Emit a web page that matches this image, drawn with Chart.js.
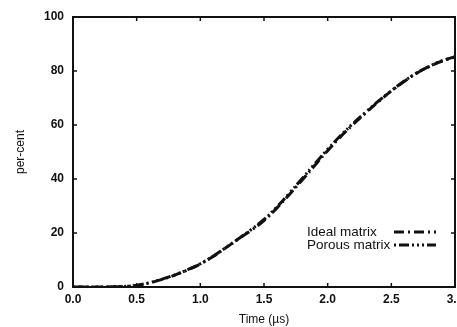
<!DOCTYPE html>
<html>
<head>
<script src="https://cdn.jsdelivr.net/npm/chart.js"></script>
<style>
  body { margin: 0; padding: 0; background: white; }
  #wrap { width: 457px; height: 327px; }
</style>
</head>
<body>
<div id="wrap"><canvas id="myChart" width="457" height="327"></canvas></div>
<script>
// time in microseconds
const times = [0.0, 0.1, 0.2, 0.3, 0.4, 0.5, 0.6, 0.7, 0.8, 0.9, 1.0, 1.1, 1.2, 1.3, 1.4, 1.5,
  1.6, 1.7, 1.8, 1.9, 2.0, 2.1, 2.2, 2.3, 2.4, 2.5, 2.6, 2.7, 2.8, 2.9, 3.0];
const idealMatrix = [0, 0, 0, 0.05, 0.2, 0.6, 1.5, 2.8, 4.4, 6.3, 8.5, 11.3, 14.5, 17.8, 21.0, 24.6,
  29.2, 34.3, 39.6, 45.1, 50.5, 55.6, 60.2, 64.5, 68.7, 72.6, 76.1, 79.2, 81.7, 83.7, 85.2];
const porousMatrix = [0, 0, 0, 0.05, 0.2, 0.6, 1.6, 2.9, 4.5, 6.4, 8.6, 11.4, 14.6, 17.9, 21.3, 25.0,
  29.6, 34.8, 40.2, 45.7, 51.0, 56.0, 60.6, 64.8, 68.9, 72.7, 76.2, 79.3, 81.8, 83.8, 85.3];
const xTicks = [0, 0.5, 1.0, 1.5, 2.0, 2.5, 3.0];
const yTicks = [0, 20, 40, 60, 80, 100];

const legendItems = [
  { label: "Ideal matrix", dash: [10, 4, 2, 4] },
  { label: "Porous matrix", dash: [2, 3, 10, 3, 2, 3, 2, 3] }
];

const toPoints = (ys) => times.map((t, i) => ({ x: t, y: ys[i] }));

// gnuplot-style frame, inward ticks and legend
const framePlugin = {
  id: "frame",
  afterDraw(chart) {
    const { ctx, chartArea: a, scales } = chart;
    ctx.save();
    ctx.strokeStyle = "#111";
    ctx.lineWidth = 1.5;
    xTicks.forEach(v => {
      const px = scales.x.getPixelForValue(v);
      ctx.beginPath();
      ctx.moveTo(px, a.bottom); ctx.lineTo(px, a.bottom - 4);
      ctx.moveTo(px, a.top); ctx.lineTo(px, a.top + 4);
      ctx.stroke();
    });
    yTicks.forEach(v => {
      const py = scales.y.getPixelForValue(v);
      ctx.beginPath();
      ctx.moveTo(a.left, py); ctx.lineTo(a.left + 4, py);
      ctx.moveTo(a.right, py); ctx.lineTo(a.right - 4, py);
      ctx.stroke();
    });
    ctx.lineWidth = 2;
    ctx.strokeRect(a.left, a.top, a.right - a.left, a.bottom - a.top);

    // legend
    ctx.font = "13.5px 'Liberation Sans', Arial, sans-serif";
    ctx.fillStyle = "#111";
    ctx.textBaseline = "middle";
    legendItems.forEach((item, i) => {
      const y = 232 + i * 13;
      ctx.fillText(item.label, 307, y);
      ctx.beginPath();
      ctx.setLineDash(item.dash);
      ctx.lineWidth = 3;
      ctx.moveTo(394, y);
      ctx.lineTo(436, y);
      ctx.stroke();
      ctx.setLineDash([]);
    });
    ctx.restore();
  }
};

new Chart(document.getElementById("myChart").getContext("2d"), {
  type: "line",
  data: {
    datasets: [
      {
        label: legendItems[0].label,
        data: toPoints(idealMatrix),
        borderColor: "#111",
        borderWidth: 3,
        borderDash: legendItems[0].dash,
        pointRadius: 0,
        tension: 0.4,
        fill: false
      },
      {
        label: legendItems[1].label,
        data: toPoints(porousMatrix),
        borderColor: "#111",
        borderWidth: 3,
        borderDash: legendItems[1].dash,
        pointRadius: 0,
        tension: 0.4,
        fill: false
      }
    ]
  },
  options: {
    responsive: false,
    animation: false,
    layout: { autoPadding: false, padding: { left: 0, right: 2, top: 17, bottom: 0 } },
    plugins: { legend: { display: false }, tooltip: { enabled: false } },
    scales: {
      x: {
        type: "linear",
        min: 0,
        max: 3,
        afterBuildTicks: (s) => { s.ticks = xTicks.map(v => ({ value: v })); },
        afterFit: (s) => {
          s.height = 40;
          s.paddingLeft = 0;
          s.paddingRight = 0;
        },
        grid: { display: false, drawTicks: false },
        border: { display: false },
        ticks: {
          padding: 5,
          color: "#111",
          font: { family: "'Liberation Sans', Arial, sans-serif", size: 12, weight: "bold" },
          callback: (v) => v.toFixed(1)
        },
        title: {
          display: true,
          text: "Time (µs)",
          color: "#111",
          padding: { top: 2, bottom: 0 },
          font: { family: "'Liberation Sans', Arial, sans-serif", size: 12 }
        }
      },
      y: {
        min: 0,
        max: 100,
        afterBuildTicks: (s) => { s.ticks = yTicks.map(v => ({ value: v })); },
        afterFit: (s) => {
          s.width = 73;
          s.paddingTop = 0;
          s.paddingBottom = 0;
        },
        grid: { display: false, drawTicks: false },
        border: { display: false },
        ticks: {
          padding: 9,
          color: "#111",
          font: { family: "'Liberation Sans', Arial, sans-serif", size: 12, weight: "bold" }
        },
        title: {
          display: true,
          text: "per-cent",
          color: "#111",
          padding: { top: 13, bottom: 8 },
          font: { family: "'Liberation Sans', Arial, sans-serif", size: 12 }
        }
      }
    }
  },
  plugins: [framePlugin]
});
</script>
</body>
</html>
